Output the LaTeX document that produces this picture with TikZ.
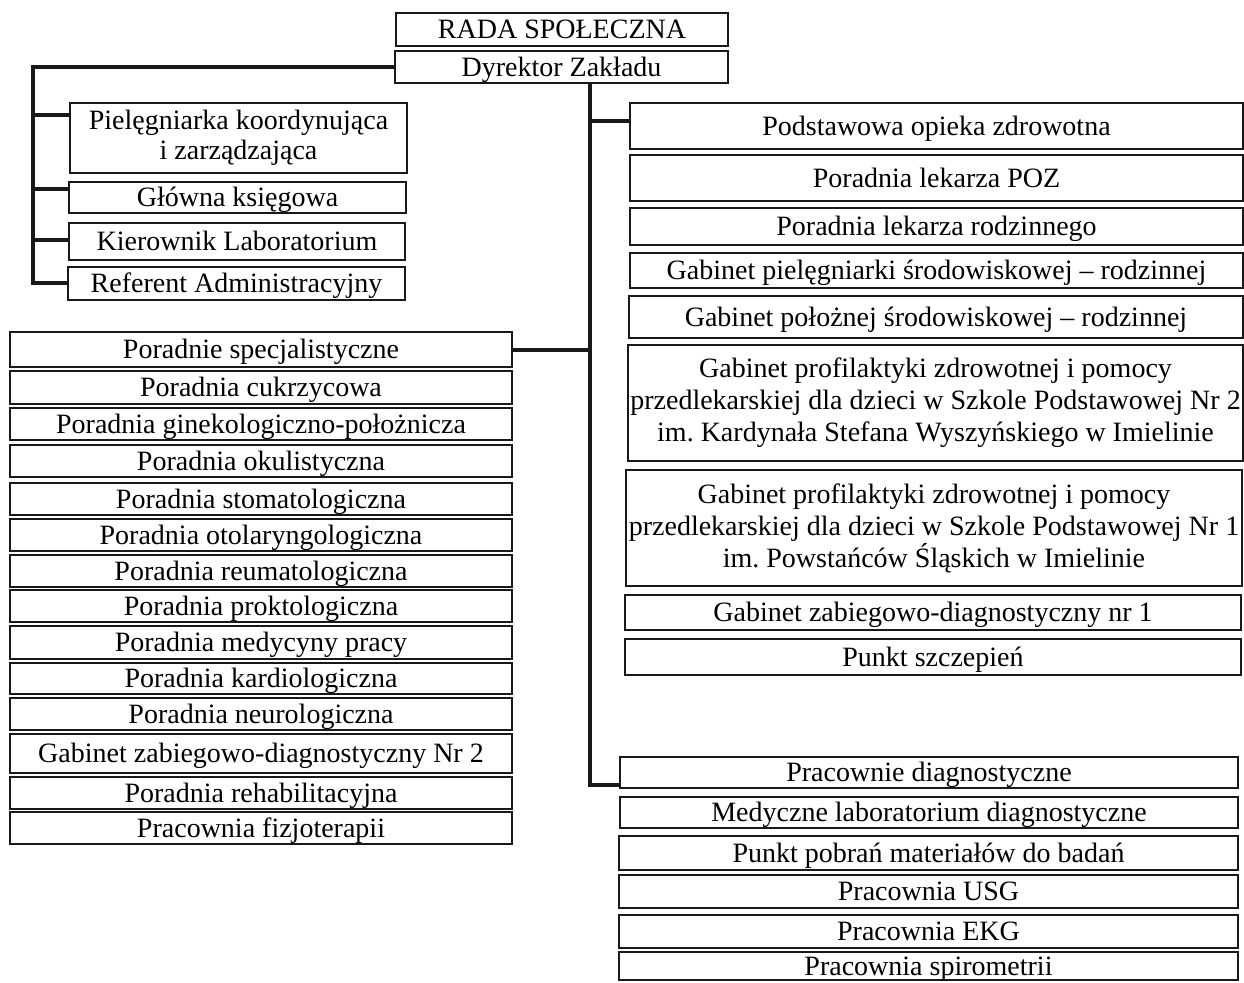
\documentclass[tikz,border=0pt]{standalone}
\usepackage{fontspec}
\setmainfont{Liberation Serif}
\begin{document}
\begin{tikzpicture}[x=1pt,y=-1pt,
  bxbase/.style={draw=black!90, line width=1.5pt, inner xsep=0pt, inner ysep=0pt,
     font=\fontsize{28}{32}\selectfont},
  bx/.style={bxbase, text height=18.5pt, text depth=0pt},
  bxm/.style={bxbase, align=center},
  conn/.style={draw=black!90, line width=3.8pt}]
\useasboundingbox (0,0) rectangle (1244,982);
% top
\node[bx, minimum width=332pt, minimum height=33pt] (rada) at (562,29.5) {RADA SPOŁECZNA};
\node[bx, minimum width=333pt, minimum height=32pt] (dyr) at (561.5,67) {Dyrektor Zakładu};
% left staff
\node[bxm, minimum width=337pt, minimum height=70pt, font=\fontsize{28}{30}\selectfont] (piel) at (238.5,138) {Pielęgniarka koordynująca\\i zarządzająca};
\node[bx, minimum width=337pt, minimum height=31pt] (glow) at (237.5,197.5) {Główna księgowa};
\node[bx, minimum width=336pt, minimum height=37pt] (kier) at (237,241.5) {Kierownik Laboratorium};
\node[bx, minimum width=337pt, minimum height=33pt] (refa) at (236.5,283.5) {Referent Administracyjny};
% right column
\node[bx, minimum width=613pt, minimum height=46pt] (pods) at (936.5,126) {Podstawowa opieka zdrowotna};
\node[bx, minimum width=613pt, minimum height=46pt] (poz) at (936.5,178) {Poradnia lekarza POZ};
\node[bx, minimum width=613pt, minimum height=37pt] (rodz) at (936.5,226.5) {Poradnia lekarza rodzinnego};
\node[bx, minimum width=613pt, minimum height=35pt] (pielr) at (936.5,270.5) {Gabinet pielęgniarki środowiskowej – rodzinnej};
\node[bx, minimum width=614pt, minimum height=42pt] (polo) at (936,317) {Gabinet położnej środowiskowej – rodzinnej};
\node[bxm, minimum width=615pt, minimum height=116pt] (prof2) at (935.5,403) {Gabinet profilaktyki zdrowotnej i pomocy\\przedlekarskiej dla dzieci w Szkole Podstawowej Nr 2\\im.\ Kardynała Stefana Wyszyńskiego w Imielinie};
\node[bxm, minimum width=616pt, minimum height=116pt] (prof1) at (934,528) {Gabinet profilaktyki zdrowotnej i pomocy\\przedlekarskiej dla dzieci w Szkole Podstawowej Nr 1\\im.\ Powstańców Śląskich w Imielinie};
\node[bx, minimum width=616pt, minimum height=35pt] (zab1) at (933,612.5) {Gabinet zabiegowo-diagnostyczny nr 1};
\node[bx, minimum width=616pt, minimum height=36pt] (szcz) at (933,657) {Punkt szczepień};
% diagnostic
\node[bx, minimum width=618pt, minimum height=31pt] (pdiag) at (929,772.5) {Pracownie diagnostyczne};
\node[bx, minimum width=618pt, minimum height=31pt] (medl) at (929,812.5) {Medyczne laboratorium diagnostyczne};
\node[bx, minimum width=619pt, minimum height=34pt] (pobr) at (928.5,853) {Punkt pobrań materiałów do badań};
\node[bx, minimum width=619pt, minimum height=33pt] (usg) at (928.5,891.5) {Pracownia USG};
\node[bx, minimum width=619pt, minimum height=33pt] (ekg) at (928.5,931.5) {Pracownia EKG};
\node[bx, minimum width=619pt, minimum height=28pt] (spir) at (928.5,966) {Pracownia spirometrii};
% specialist clinics
\node[bx, minimum width=502pt, minimum height=35pt] (spec) at (261,349.5) {Poradnie specjalistyczne};
\node[bx, minimum width=502pt, minimum height=33pt] (cukr) at (261,387.5) {Poradnia cukrzycowa};
\node[bx, minimum width=502pt, minimum height=32pt] (gin) at (261,424) {Poradnia ginekologiczno-położnicza};
\node[bx, minimum width=502pt, minimum height=32pt] (oku) at (261,461) {Poradnia okulistyczna};
\node[bx, minimum width=502pt, minimum height=32pt] (stom) at (261,499) {Poradnia stomatologiczna};
\node[bx, minimum width=502pt, minimum height=32pt] (oto) at (261,535) {Poradnia otolaryngologiczna};
\node[bx, minimum width=502pt, minimum height=32pt] (reum) at (261,571) {Poradnia reumatologiczna};
\node[bx, minimum width=502pt, minimum height=32pt] (prok) at (261,606) {Poradnia proktologiczna};
\node[bx, minimum width=502pt, minimum height=33pt] (medp) at (261,642.5) {Poradnia medycyny pracy};
\node[bx, minimum width=502pt, minimum height=31pt] (kard) at (261,678.5) {Poradnia kardiologiczna};
\node[bx, minimum width=502pt, minimum height=32pt] (neur) at (261,714) {Poradnia neurologiczna};
\node[bx, minimum width=502pt, minimum height=39pt] (gab2) at (261,753.5) {Gabinet zabiegowo-diagnostyczny Nr 2};
\node[bx, minimum width=502pt, minimum height=32pt] (rehab) at (261,793) {Poradnia rehabilitacyjna};
\node[bx, minimum width=502pt, minimum height=32pt] (fizj) at (261,828) {Pracownia fizjoterapii};
% left bus
\coordinate (l0) at (33,67);
\coordinate (l1) at (33,115);
\coordinate (l2) at (33,189);
\coordinate (l3) at (33,240);
\coordinate (l4) at (33,283);
\draw[conn] (dyr.west) -- (l0) -- (l4) -- (l4 -| refa.west);
\draw[conn] (l1) -- (l1 -| piel.west);
\draw[conn] (l2) -- (l2 -| glow.west);
\draw[conn] (l3) -- (l3 -| kier.west);
% centre bus
\coordinate (c0) at (590,83);
\coordinate (c1) at (590,121);
\coordinate (c2) at (590,350);
\coordinate (c3) at (590,785);
\draw[conn] (c0) -- (c3) -- (c3 -| pdiag.west);
\draw[conn] (c1) -- (c1 -| pods.west);
\draw[conn] (c2) -- (c2 -| spec.east);
\end{tikzpicture}
\end{document}
